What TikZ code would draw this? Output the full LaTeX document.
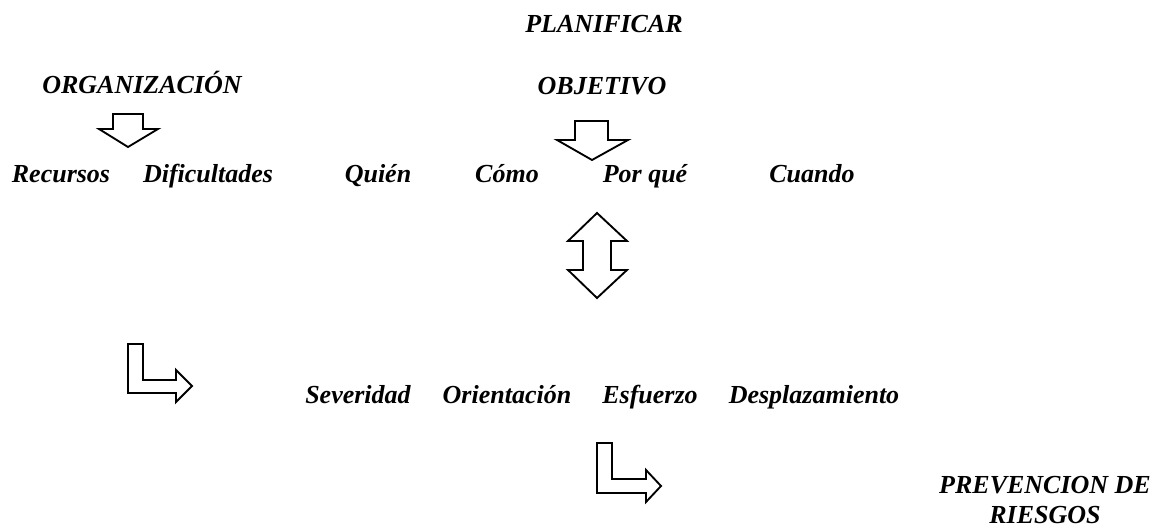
\documentclass[tikz,border=0pt]{standalone}
\usepackage{fontspec}
\setmainfont{Liberation Serif}
\begin{document}
\begin{tikzpicture}[x=0.75pt,y=-0.75pt,
  lbl/.style={anchor=base,inner sep=0pt,font=\fontsize{19.5}{22.5}\selectfont\bfseries\itshape},
  blockarrow/.style={draw=black,line width=1.4pt,fill=white,line join=miter}]
\useasboundingbox (0,0) rectangle (1167,527);
% texts
\node[lbl] (plan) at (604,33) {PLANIFICAR};
\node[lbl] (org) at (142,94) {ORGANIZACIÓN};
\node[lbl] (obj) at (602,95) {OBJETIVO};
\node[lbl] (rec) at (61,183) {Recursos};
\node[lbl] (dif) at (208,183) {Dificultades};
\node[lbl] (qui) at (378,183) {Quién};
\node[lbl] (com) at (507,183) {Cómo};
\node[lbl] (por) at (645,183) {Por qué};
\node[lbl] (cua) at (812,183) {Cuando};
\node[lbl] (sev) at (358,403) {Severidad};
\node[lbl] (ori) at (507,403) {Orientación};
\node[lbl] (esf) at (650,403) {Esfuerzo};
\node[lbl] (des) at (814,403) {Desplazamiento};
\node[lbl,anchor=north,align=center] (prev) at (1045,476) {PREVENCION DE\\RIESGOS};
% block arrows
\draw[blockarrow] (113,114) -- (143,114) -- (143,129) -- (158,129) -- (128,147) -- (99,129) -- (113,129) -- cycle;
\draw[blockarrow] (575,121) -- (608,121) -- (608,140) -- (628,140) -- (592,160) -- (557,140) -- (575,140) -- cycle;
\draw[blockarrow] (597,213) -- (627,241) -- (611,241) -- (611,270) -- (627,270) -- (597,298) -- (568,270) -- (583,270) -- (583,241) -- (568,241) -- cycle;
\draw[blockarrow] (128,344) -- (143,344) -- (143,380) -- (176,380) -- (176,370) -- (192,386) -- (176,402) -- (176,393) -- (128,393) -- cycle;
\draw[blockarrow] (597,443) -- (612,443) -- (612,479) -- (646,479) -- (646,470) -- (661,486) -- (646,502) -- (646,493) -- (597,493) -- cycle;
\end{tikzpicture}
\end{document}
